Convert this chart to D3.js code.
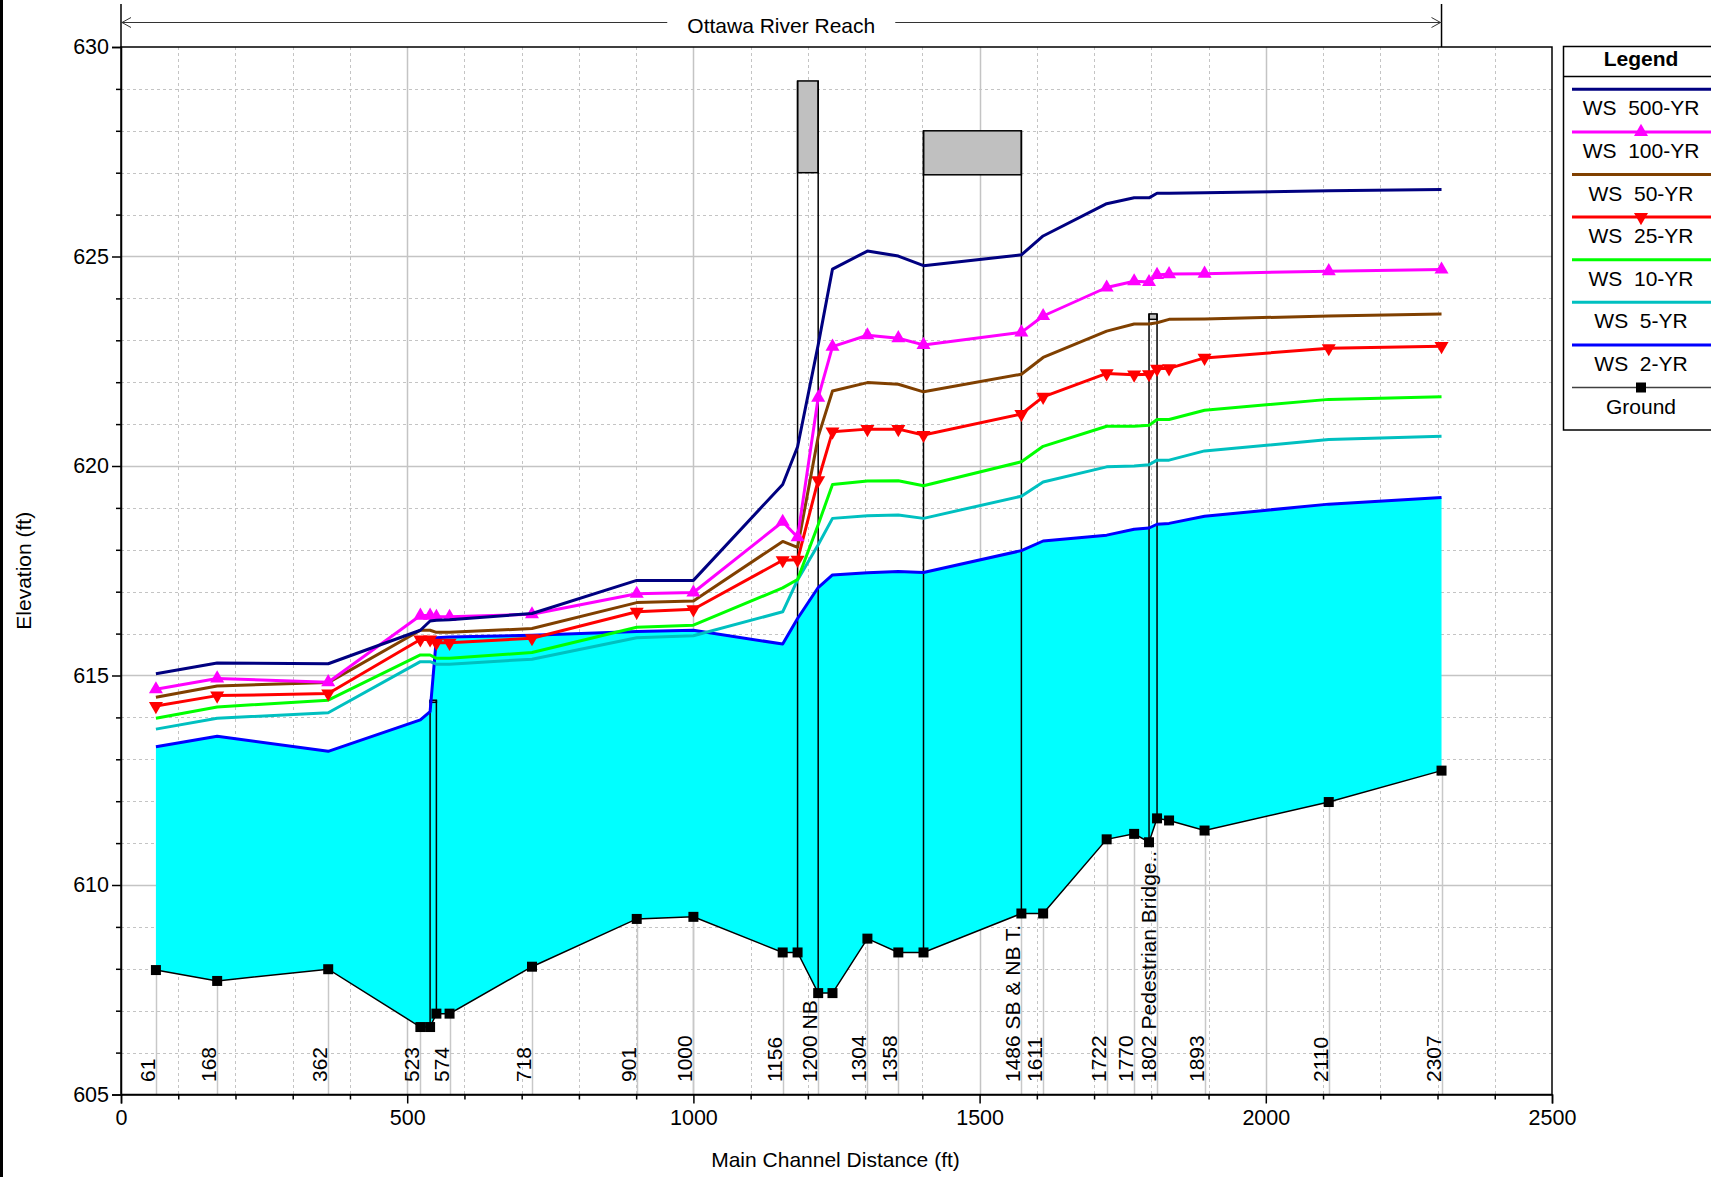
<!DOCTYPE html>
<html>
<head>
<meta charset="utf-8">
<script src="https://cdn.jsdelivr.net/npm/d3@7"></script>
<style>
  html, body { margin: 0; padding: 0; background: #fff; }
  svg { display: block; font-family: "Liberation Sans", Arial, sans-serif; }
  text { white-space: pre; }
</style>
</head>
<body>
<svg id="chart" width="1711" height="1177"></svg>
<script>
// Main channel distance of each cross section (ft)
const stations = [61, 168, 362, 523, 540, 551, 574, 718, 901, 1000, 1156, 1182, 1218, 1243,
  1304, 1358, 1402, 1573, 1611, 1722, 1770, 1796, 1810, 1831, 1893, 2110, 2307];

// Channel invert (ft)
const ground = [607.97, 607.71, 607.99, 606.61, 606.61, 606.93, 606.93, 608.05, 609.19, 609.24,
  608.39, 608.39, 607.42, 607.42, 608.72, 608.39, 608.39, 609.32, 609.32, 611.09, 611.22,
  611.02, 611.59, 611.54, 611.30, 611.98, 612.73];

// Water surface elevations by profile (ft)
const ws500 = [615.04, 615.30, 615.28, 616.08, 616.30, 616.32, 616.33, 616.48, 617.27, 617.27,
  619.56, 620.46, 622.89, 624.70, 625.13, 625.01, 624.78, 625.04, 625.49, 626.26, 626.40,
  626.40, 626.51, 626.51, 626.52, 626.57, 626.60];
const ws100 = [614.67, 614.93, 614.84, 616.43, 616.43, 616.40, 616.40, 616.46, 616.95, 616.98,
  618.67, 618.30, 621.63, 622.85, 623.12, 623.05, 622.89, 623.19, 623.58, 624.26, 624.41,
  624.39, 624.56, 624.58, 624.59, 624.65, 624.69];
const ws50 = [614.48, 614.75, 614.83, 616.08, 616.08, 616.03, 616.03, 616.12, 616.74, 616.78,
  618.20, 618.06, 620.70, 621.79, 621.99, 621.95, 621.77, 622.19, 622.59, 623.22, 623.39,
  623.39, 623.42, 623.50, 623.51, 623.58, 623.63];
const ws25 = [614.27, 614.52, 614.57, 615.86, 615.86, 615.78, 615.78, 615.89, 616.52, 616.58,
  617.75, 617.76, 619.66, 620.82, 620.88, 620.88, 620.74, 621.24, 621.65, 622.21, 622.18,
  622.19, 622.32, 622.33, 622.58, 622.81, 622.86];
const ws10 = [613.98, 614.25, 614.41, 615.49, 615.49, 615.41, 615.41, 615.55, 616.15, 616.20,
  617.09, 617.29, 618.60, 619.56, 619.64, 619.65, 619.53, 620.10, 620.47, 620.95, 620.95,
  620.97, 621.11, 621.11, 621.33, 621.59, 621.65];
const ws5 = [613.72, 613.98, 614.11, 615.33, 615.33, 615.27, 615.27, 615.39, 615.90, 615.95,
  616.52, 617.28, 618.12, 618.75, 618.81, 618.83, 618.75, 619.28, 619.62, 619.98, 620.00,
  620.03, 620.14, 620.14, 620.36, 620.63, 620.71];
const ws2 = [613.30, 613.55, 613.19, 613.94, 614.14, 615.90, 615.92, 615.96, 616.05, 616.08,
  615.75, 616.36, 617.10, 617.40, 617.45, 617.48, 617.46, 617.98, 618.21, 618.35, 618.49,
  618.52, 618.61, 618.63, 618.80, 619.09, 619.25];

// Bridge / culvert decks: downstream face, upstream face, low chord, high chord (ft)
const deckDown = [540, 1182, 1402, 1796];
const deckUp = [551, 1218, 1573, 1810];
const lowChord = [614.36, 627.00, 626.95, 623.50];
const highChord = [614.41, 629.19, 628.00, 623.63];

// River station labels along the bottom
const labelAt = [61, 168, 362, 523, 574, 718, 901, 1000, 1156, 1218, 1304, 1358, 1573, 1611,
  1722, 1770, 1810, 1893, 2110, 2307];
const labelText = ["61", "168", "362", "523", "574", "718", "901", "1000", "1156", "1200 NB",
  "1304", "1358", "1486 SB & NB T.", "1611", "1722", "1770", "1802 Pedestrian Bridge..",
  "1893", "2110", "2307"];

// Axis ticks
const xTicks = [0, 500, 1000, 1500, 2000, 2500];
const yTicks = [605, 610, 615, 620, 625, 630];

// Profile names, colours and marker styles (top to bottom in the legend)
const profileNames = ["WS  500-YR", "WS  100-YR", "WS  50-YR", "WS  25-YR", "WS  10-YR", "WS  5-YR", "WS  2-YR"];
const profileValues = [ws500, ws100, ws50, ws25, ws10, ws5, ws2];
const profileColors = ["#000080", "#ff00ff", "#804000", "#ff0000", "#00ff00", "#00c0c0", "#0000ff"];
const profileMarkers = [null, "up", null, "down", null, null, null];

const svg = d3.select("#chart");
const FS = 21;

const x = d3.scaleLinear().domain([0, 2500]).range([121, 1552]);
const y = d3.scaleLinear().domain([605, 630]).range([1094.5, 47]);
const [L, R] = x.range();
const [B, T] = y.range();

// Left page rule
svg.append("rect").attr("x", 0).attr("y", 0).attr("width", 3).attr("height", 1177).attr("fill", "#000");

// Grid
const grid = svg.append("g");
d3.range(100, 2500, 100).forEach(v => {
  const px = Math.round(x(v)) + 0.5;
  grid.append("line").attr("x1", px).attr("x2", px).attr("y1", T).attr("y2", B)
    .attr("stroke", "#c4c4c4")
    .attr("stroke-width", v % 500 === 0 ? 1.5 : 1)
    .attr("stroke-dasharray", v % 500 === 0 ? null : "3,3");
});
d3.range(606, 630, 1).forEach(v => {
  const py = Math.round(y(v)) + 0.5;
  grid.append("line").attr("x1", L).attr("x2", R).attr("y1", py).attr("y2", py)
    .attr("stroke", "#c4c4c4")
    .attr("stroke-width", v % 5 === 0 ? 1.5 : 1)
    .attr("stroke-dasharray", v % 5 === 0 ? null : "3,3");
});

const gAt = s => ground[stations.indexOf(s)];

// Station marker lines from the axis up to the invert
labelAt.forEach(s => {
  const px = Math.round(x(s)) + 0.5;
  svg.append("line").attr("x1", px).attr("x2", px).attr("y1", B).attr("y2", y(gAt(s)))
    .attr("stroke", "#c8c8c8").attr("stroke-width", 1.5);
});

// 2-yr flow area
const idx = d3.range(stations.length);
svg.append("path")
  .attr("d", d3.area().x(i => x(stations[i])).y0(i => y(ground[i])).y1(i => y(ws2[i]))(idx))
  .attr("fill", "#00ffff");

// Decks and piers
deckDown.forEach((d, k) => {
  const u = deckUp[k];
  svg.append("rect").attr("x", x(d)).attr("y", y(highChord[k]))
    .attr("width", x(u) - x(d)).attr("height", y(lowChord[k]) - y(highChord[k]))
    .attr("fill", "#c0c0c0").attr("stroke", "#000").attr("stroke-width", 1.5);
  [d, u].forEach(s => {
    svg.append("line").attr("x1", x(s)).attr("x2", x(s))
      .attr("y1", y(gAt(s))).attr("y2", y(highChord[k]))
      .attr("stroke", "#000").attr("stroke-width", 1.5);
  });
});

// Water surface profiles (drawn from lowest to highest)
const line = d3.line().x(i => x(stations[i]));
const tri = d3.symbol().type(d3.symbolTriangle).size(85);
for (let p = profileValues.length - 1; p >= 0; p--) {
  const vals = profileValues[p];
  svg.append("path").attr("d", line.y(i => y(vals[i]))(idx))
    .attr("fill", "none").attr("stroke", profileColors[p]).attr("stroke-width", 3)
    .attr("stroke-linejoin", "round");
  if (profileMarkers[p]) {
    const rot = profileMarkers[p] === "down" ? 180 : 0;
    svg.append("g").selectAll("path").data(idx).join("path")
      .attr("d", tri())
      .attr("transform", i => `translate(${x(stations[i])},${y(vals[i])}) rotate(${rot})`)
      .attr("fill", profileColors[p]);
  }
}

// Ground line with section markers
svg.append("path").attr("d", line.y(i => y(ground[i]))(idx))
  .attr("fill", "none").attr("stroke", "#000").attr("stroke-width", 1.5);
const sq = d3.symbol().type(d3.symbolSquare).size(100);
svg.append("g").selectAll("path").data(idx).join("path")
  .attr("d", sq()).attr("transform", i => `translate(${x(stations[i])},${y(ground[i])})`)
  .attr("fill", "#000");

// Station labels
svg.append("g").selectAll("text").data(labelAt).join("text")
  .attr("transform", s => `translate(${x(s) - 1},1082) rotate(-90)`)
  .attr("font-size", FS).attr("fill", "#000")
  .text((s, i) => labelText[i]);

// Plot frame
svg.append("rect").attr("x", L).attr("y", T).attr("width", R - L).attr("height", B - T)
  .attr("fill", "none").attr("stroke", "#000").attr("stroke-width", 1.5);

// Axes
svg.append("g").attr("transform", `translate(0,${B})`)
  .call(d3.axisBottom(x).tickValues(xTicks).tickSize(9).tickPadding(6).tickFormat(d3.format("d")));
svg.append("g").attr("transform", `translate(0,${B})`)
  .call(d3.axisBottom(x).tickValues(d3.range(100, 2500, 100).filter(v => v % 500)).tickSize(5).tickFormat(""))
  .select(".domain").remove();
svg.append("g").attr("transform", `translate(${L},0)`)
  .call(d3.axisLeft(y).tickValues(yTicks).tickSize(9).tickPadding(3).tickFormat(d3.format("d")));
svg.append("g").attr("transform", `translate(${L},0)`)
  .call(d3.axisLeft(y).tickValues(d3.range(606, 630, 1).filter(v => v % 5)).tickSize(5).tickFormat(""))
  .select(".domain").remove();
svg.selectAll(".tick line").attr("stroke", "#000").attr("stroke-width", 1.5);
svg.selectAll(".domain").attr("stroke", "#000").attr("stroke-width", 1.5);
svg.selectAll(".tick text").attr("font-size", 21.5).attr("font-family", "Liberation Sans, Arial, sans-serif").attr("fill", "#000");

// Axis titles
svg.append("text").attr("x", (L + R) / 2 - 1).attr("y", 1167).attr("text-anchor", "middle")
  .attr("font-size", FS).text("Main Channel Distance (ft)");
svg.append("text").attr("transform", `translate(31,${(T + B) / 2}) rotate(-90)`)
  .attr("text-anchor", "middle").attr("font-size", FS).text("Elevation (ft)");

// Reach extent bar with name
const reachEnd = x(stations[stations.length - 1]);
const barY = 22.5;
const midX = (L + reachEnd) / 2;
svg.append("line").attr("x1", L).attr("x2", L).attr("y1", 4).attr("y2", T).attr("stroke", "#000").attr("stroke-width", 1.5);
svg.append("line").attr("x1", reachEnd).attr("x2", reachEnd).attr("y1", 4).attr("y2", T).attr("stroke", "#000").attr("stroke-width", 1.5);
[[L, midX - 114], [midX + 114, reachEnd]].forEach(([a, b]) => {
  svg.append("line").attr("x1", a).attr("x2", b).attr("y1", barY).attr("y2", barY)
    .attr("stroke", "#333").attr("stroke-width", 1);
});
svg.append("path").attr("d", `M${L + 10},${barY - 5}L${L + 1},${barY}L${L + 10},${barY + 5}`)
  .attr("fill", "none").attr("stroke", "#333").attr("stroke-width", 1);
svg.append("path").attr("d", `M${reachEnd - 10},${barY - 5}L${reachEnd - 1},${barY}L${reachEnd - 10},${barY + 5}`)
  .attr("fill", "none").attr("stroke", "#333").attr("stroke-width", 1);
svg.append("text").attr("x", midX).attr("y", barY + 10).attr("text-anchor", "middle")
  .attr("font-size", FS).text("Ottawa River Reach");

// Legend
const lg = svg.append("g");
lg.append("rect").attr("x", 1563.5).attr("y", 46.5).attr("width", 170).attr("height", 383.5)
  .attr("fill", "#fff").attr("stroke", "#000").attr("stroke-width", 1.5);
lg.append("text").attr("x", 1641).attr("y", 66).attr("text-anchor", "middle")
  .attr("font-size", FS).attr("font-weight", "bold").text("Legend");
lg.append("line").attr("x1", 1563.5).attr("x2", 1711).attr("y1", 76.5).attr("y2", 76.5)
  .attr("stroke", "#000").attr("stroke-width", 1.5);
const legNames = profileNames.concat(["Ground"]);
const legColors = profileColors.concat(["#404040"]);
const legMarkers = profileMarkers.concat(["square"]);
legNames.forEach((name, i) => {
  const ly = 89.3 + i * 42.6;
  lg.append("line").attr("x1", 1572).attr("x2", 1711).attr("y1", ly).attr("y2", ly)
    .attr("stroke", legColors[i]).attr("stroke-width", i === 7 ? 1.5 : 3);
  const m = legMarkers[i];
  if (m === "up" || m === "down") {
    lg.append("path").attr("d", tri())
      .attr("transform", `translate(1641,${ly}) rotate(${m === "down" ? 180 : 0})`)
      .attr("fill", legColors[i]);
  } else if (m === "square") {
    lg.append("path").attr("d", sq()).attr("transform", `translate(1641,${ly})`).attr("fill", "#000");
  }
  lg.append("text").attr("x", 1641).attr("y", ly + 26).attr("text-anchor", "middle")
    .attr("font-size", FS).text(name);
});
</script>
</body>
</html>
